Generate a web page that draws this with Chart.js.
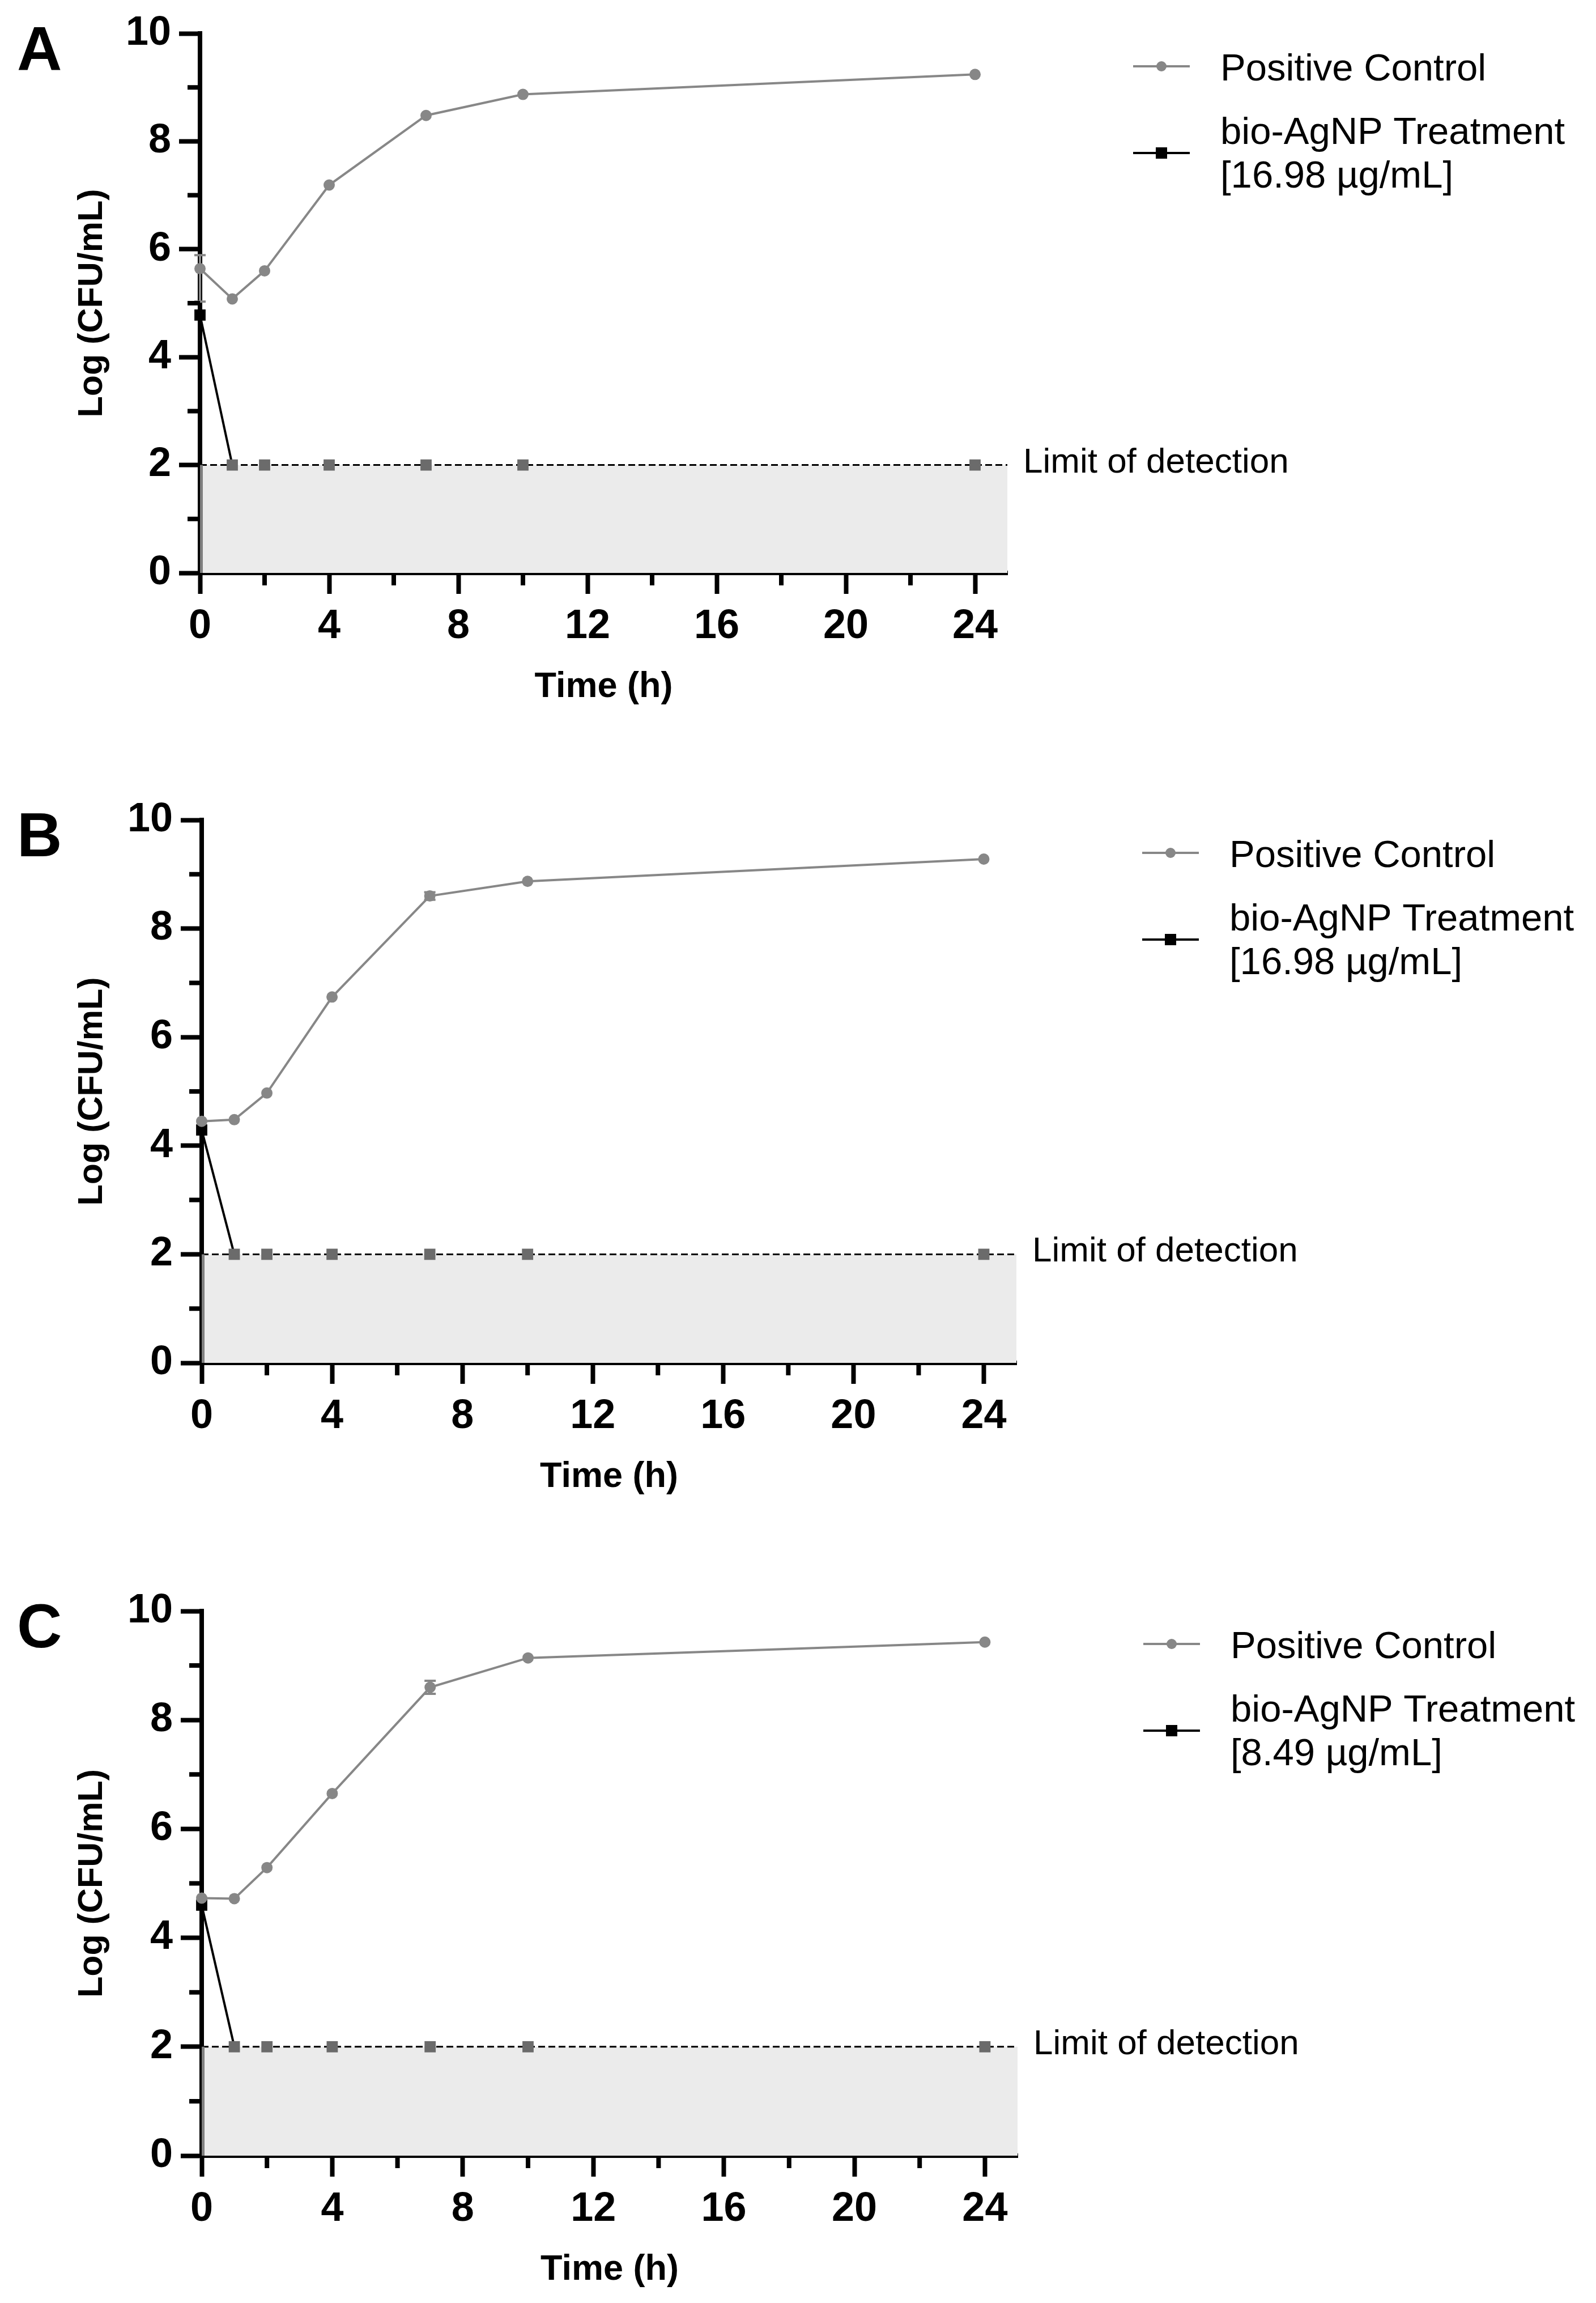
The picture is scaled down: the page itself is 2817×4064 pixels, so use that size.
<!DOCTYPE html>
<html><head><meta charset="utf-8">
<script src="https://cdn.jsdelivr.net/npm/chart.js@4.4.1/dist/chart.umd.min.js"></script>
<style>
html,body{margin:0;padding:0;background:#fff;}
body{width:2817px;height:4064px;position:relative;overflow:hidden;}
canvas{position:absolute;left:0;}
</style></head><body>
<canvas id="cA"></canvas><canvas id="cB"></canvas><canvas id="cC"></canvas>
<script>
// ---------------- data ----------------
const timePoints = [0, 1, 2, 4, 7, 10, 24];

const controlA       = [5.64, 5.08, 5.60, 7.19, 8.48, 8.87, 9.24];
const controlErrUpA  = [0.25, 0, 0, 0, 0, 0, 0];
const controlErrDnA  = [0.61, 0, 0, 0, 0, 0, 0];
const treatmentA     = [4.78, 2, 2, 2, 2, 2, 2];

const controlB       = [4.45, 4.48, 4.97, 6.74, 8.60, 8.87, 9.28];
const controlErrB    = [0, 0, 0, 0, 0.07, 0, 0];
const treatmentB     = [4.29, 2, 2, 2, 2, 2, 2];

const controlC       = [4.73, 4.72, 5.29, 6.65, 8.60, 9.14, 9.43];
const controlErrC    = [0, 0, 0, 0, 0.12, 0, 0];
const treatmentC     = [4.60, 2, 2, 2, 2, 2, 2];

const limitOfDetection = 2;
const xTicks = [0, 4, 8, 12, 16, 20, 24];
const xMinorTicks = [2, 6, 10, 14, 18, 22];
const yTicks = [0, 2, 4, 6, 8, 10];
const yMinorTicks = [1, 3, 5, 7, 9];
const xMax = 25, yMax = 10;

const panelLetters = ['A', 'B', 'C'];
const seriesNames = ['Positive Control', 'bio-AgNP Treatment'];
const doseLabels = ['[16.98 µg/mL]', '[16.98 µg/mL]', '[8.49 µg/mL]'];
const lodLabel = 'Limit of detection';
const xTitle = 'Time (h)';
const yTitle = 'Log (CFU/mL)';

const panels = [
  {id:'cA', control:controlA, errUp:controlErrUpA, errDn:controlErrDnA, treatment:treatmentA},
  {id:'cB', control:controlB, errUp:controlErrB,   errDn:controlErrB,   treatment:treatmentB},
  {id:'cC', control:controlC, errUp:controlErrC,   errDn:controlErrC,   treatment:treatmentC}
];

// ---------------- layout / style ----------------
const W = 2817, CH = 1280, TOPPAD = 59, HX = 239;
const LAYOUT = [
  {top:59,   bottom:1011, left:353, right:1778},
  {top:1447, bottom:2405, left:356, right:1794},
  {top:2843, bottom:3804, left:356, right:1796}
];
const FONT = '"Liberation Sans", Arial, Helvetica, sans-serif';
const GREY = '#878787', SQGREY = '#6b6b6b', SHADE = '#ebebeb';

function decorPlugin(i){
  return {
    id:'decor',
    afterDatasetsDraw(chart){
      const {ctx, scales:{x, y}} = chart;
      const p = panels[i];
      ctx.save();
      const x0 = x.getPixelForValue(0);
      ctx.strokeStyle = '#808080'; ctx.lineWidth = 5;
      ctx.beginPath();
      ctx.moveTo(x0 + 2.5, y.getPixelForValue(0));
      ctx.lineTo(x0 + 2.5, y.getPixelForValue(limitOfDetection));
      ctx.stroke();
      ctx.strokeStyle = GREY; ctx.lineWidth = 4;
      timePoints.forEach((t, k) => {
        const up = p.errUp[k], dn = p.errDn[k];
        if (!up && !dn) return;
        const px = x.getPixelForValue(t);
        const yt = y.getPixelForValue(p.control[k] + up);
        const yb = y.getPixelForValue(p.control[k] - dn);
        ctx.beginPath();
        ctx.moveTo(px, yt); ctx.lineTo(px, yb);
        ctx.moveTo(px - 10, yt); ctx.lineTo(px + 10, yt);
        ctx.moveTo(px - 10, yb); ctx.lineTo(px + 10, yb);
        ctx.stroke();
      });
      ctx.restore();
    },
    afterDraw(chart){
      const {ctx, chartArea:ca, scales:{x, y}} = chart;
      ctx.save();
      ctx.strokeStyle = '#000'; ctx.lineWidth = 8;
      ctx.beginPath();
      xMinorTicks.forEach(v => { const px = x.getPixelForValue(v); ctx.moveTo(px, ca.bottom); ctx.lineTo(px, ca.bottom + 22); });
      yMinorTicks.forEach(v => { const py = y.getPixelForValue(v); ctx.moveTo(ca.left, py); ctx.lineTo(ca.left - 22, py); });
      ctx.stroke();
      ctx.fillStyle = '#000';
      ctx.font = '62px ' + FONT;
      ctx.textAlign = 'left'; ctx.textBaseline = 'alphabetic';
      ctx.fillText(lodLabel, ca.right + 28, y.getPixelForValue(limitOfDetection) + 13);
      ctx.font = 'bold 110px ' + FONT;
      ctx.fillText(panelLetters[i], 30, ca.top + 64);
      const lx = ca.right + 222, lw = 100, tx = ca.right + 376;
      const y1 = ca.top + 58, y2 = ca.top + 211;
      ctx.lineWidth = 4;
      ctx.strokeStyle = GREY;
      ctx.beginPath(); ctx.moveTo(lx, y1); ctx.lineTo(lx + lw, y1); ctx.stroke();
      ctx.fillStyle = GREY;
      ctx.beginPath(); ctx.arc(lx + lw/2, y1, 9, 0, Math.PI*2); ctx.fill();
      ctx.strokeStyle = '#000';
      ctx.beginPath(); ctx.moveTo(lx, y2); ctx.lineTo(lx + lw, y2); ctx.stroke();
      ctx.fillStyle = '#000';
      ctx.fillRect(lx + lw/2 - 10, y2 - 10, 20, 20);
      ctx.font = '67px ' + FONT;
      ctx.textBaseline = 'alphabetic';
      ctx.fillText(seriesNames[0], tx, y1 + 25);
      ctx.fillText(seriesNames[1], tx, ca.top + 195);
      ctx.fillText(doseLabels[i], tx, ca.top + 272);
      ctx.restore();
    }
  };
}

panels.forEach((p, i) => {
  const L = LAYOUT[i];
  const canvasTop = L.top - TOPPAD;
  const cv = document.getElementById(p.id);
  cv.width = W; cv.height = CH;
  cv.style.top = canvasTop + 'px';
  const padBottom = CH - (L.bottom - canvasTop) - HX;

  const controlData = timePoints.map((t, k) => ({x:t, y:p.control[k]}));
  const treatData = timePoints.map((t, k) => ({x:t, y:p.treatment[k]}));
  const lodData = [{x:0, y:limitOfDetection}, {x:xMax, y:limitOfDetection}];

  new Chart(cv, {
    type:'line',
    data:{datasets:[
      {label:seriesNames[0], data:controlData, borderColor:GREY, borderWidth:4,
       pointStyle:'circle', pointRadius:10, pointBackgroundColor:GREY, pointBorderWidth:0,
       tension:0, clip:false, fill:false},
      {label:seriesNames[1], data:treatData, borderColor:'#000', borderWidth:4,
       pointStyle:'rect', pointRadius:14, pointBorderWidth:0,
       pointBackgroundColor: ctx => ctx.dataIndex === 0 ? '#000' : SQGREY,
       segment:{borderColor: ctx => ctx.p0DataIndex === 0 ? '#000' : 'rgba(0,0,0,0)'},
       tension:0, clip:false, fill:false},
      {label:lodLabel, data:lodData, borderColor:'#000', borderWidth:3, borderDash:[12,6],
       pointRadius:0, fill:'origin', backgroundColor:SHADE, tension:0}
    ]},
    options:{
      responsive:false, animation:false, devicePixelRatio:1,
      layout:{padding:{top:TOPPAD, left:0, right:W - L.right, bottom:padBottom}},
      plugins:{legend:{display:false}, tooltip:{enabled:false}, title:{display:false}},
      scales:{
        x:{type:'linear', min:0, max:xMax,
          afterBuildTicks: s => { s.ticks = xTicks.map(v => ({value:v})); },
          afterFit: s => { s.height = HX; },
          grid:{drawOnChartArea:false, drawTicks:true, tickLength:37, tickWidth:8, tickColor:'#000'},
          border:{display:true, color:'#000', width:8},
          ticks:{font:{family:FONT, size:72, weight:'bold'}, color:'#000', padding:15, maxRotation:0, autoSkip:false},
          title:{display:true, text:xTitle, color:'#000', font:{family:FONT, size:63, weight:'bold'}, padding:{top:0, bottom:0}}
        },
        y:{type:'linear', min:0, max:yMax,
          afterBuildTicks: s => { s.ticks = yTicks.map(v => ({value:v})); },
          afterFit: s => { s.width = L.left; },
          grid:{drawOnChartArea:false, drawTicks:true, tickLength:37, tickWidth:8, tickColor:'#000'},
          border:{display:true, color:'#000', width:8},
          ticks:{font:{family:FONT, size:72, weight:'bold'}, color:'#000', padding:14, autoSkip:false},
          title:{display:true, text:yTitle, color:'#000', font:{family:FONT, size:61, weight:'bold'}, padding:{top:127, bottom:0}}
        }
      }
    },
    plugins:[decorPlugin(i)]
  });
});
</script>
</body></html>
